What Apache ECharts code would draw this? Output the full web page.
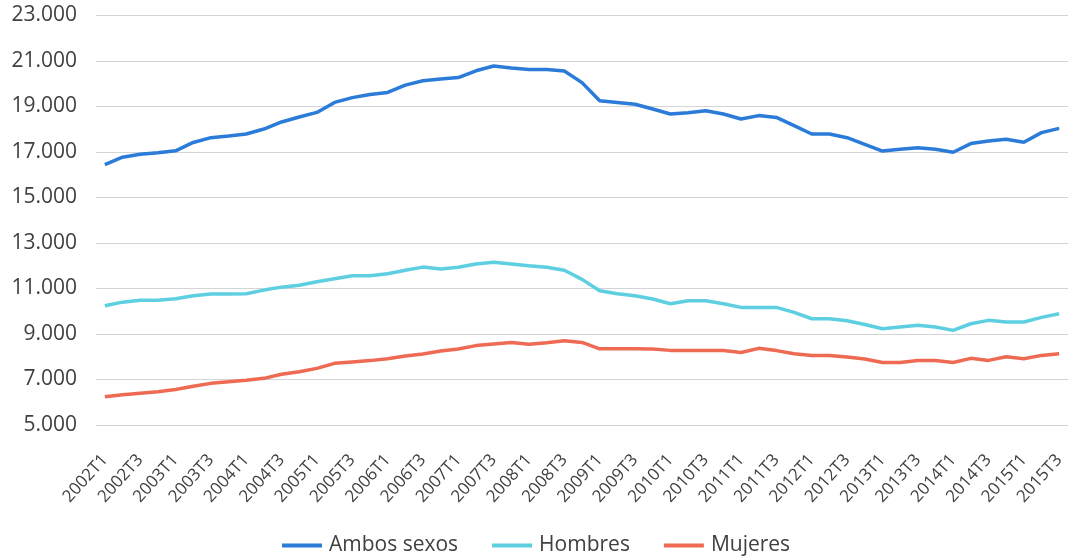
<!DOCTYPE html>
<html lang="es">
<head>
    <meta charset="UTF-8">
    <title>Ocupados</title>
    <script type="text/javascript" src="https://cdn.jsdelivr.net/npm/echarts@6/dist/echarts.min.js"></script>
    <style>
        body { margin: 0; background: #ffffff; overflow: hidden; }
    </style>
</head>
<body>
    <div style="width: 1084px; height: 557px" id="container"></div>
<script>
    // trimestres 2002T1 .. 2015T3
    let categories = [];
    for (let y = 2002; y <= 2015; y++) {
        for (let q = 1; q <= 4; q++) {
            if (y === 2015 && q > 3) break;
            categories.push(y + 'T' + q);
        }
    }

    let ambos = [16450, 16770, 16900, 16970, 17050, 17420, 17630, 17700, 17790, 18010,
        18320, 18540, 18740, 19180, 19390, 19530, 19620, 19940, 20130, 20210,
        20270, 20570, 20780, 20690, 20630, 20630, 20560, 20050, 19250, 19180,
        19100, 18890, 18670, 18730, 18810, 18670, 18450, 18600, 18520, 18160,
        17790, 17790, 17630, 17340, 17040, 17120, 17190, 17120, 16990, 17370,
        17480, 17560, 17430, 17850, 18040];

    let hombres = [10240, 10400, 10480, 10480, 10550, 10680, 10760, 10760, 10770, 10930,
        11060, 11140, 11300, 11430, 11560, 11560, 11650, 11800, 11940, 11860,
        11930, 12080, 12150, 12080, 12000, 11930, 11800, 11400, 10900, 10770,
        10680, 10540, 10330, 10460, 10460, 10330, 10170, 10170, 10170, 9950,
        9670, 9670, 9580, 9420, 9230, 9310, 9380, 9310, 9160, 9450,
        9600, 9530, 9530, 9730, 9890];

    let mujeres = [6240, 6330, 6400, 6460, 6560, 6700, 6830, 6900, 6970, 7050,
        7230, 7340, 7490, 7710, 7770, 7830, 7910, 8030, 8120, 8250,
        8340, 8490, 8560, 8630, 8550, 8620, 8700, 8630, 8350, 8350,
        8350, 8340, 8280, 8280, 8280, 8270, 8190, 8370, 8270, 8130,
        8060, 8060, 7990, 7900, 7750, 7750, 7840, 7840, 7750, 7930,
        7840, 8000, 7910, 8060, 8130];

    let seriesNames = ['Ambos sexos', 'Hombres', 'Mujeres'];
    let colors = ['#2B7BD9', '#5ECFE0', '#EF6A52'];
    let textColor = '#404040';
    let fontFamily = '"Open Sans", "Noto Sans", sans-serif';

    let formatNumber = function (num) {
        return num.toString().replace(/\B(?=(\d{3})+$)/g, '.');
    };

    let dom = document.getElementById('container');
    let myChart = echarts.init(dom, null, { renderer: 'canvas' });

    let option = {
        animation: false,
        backgroundColor: '#ffffff',
        color: colors,
        grid: {
            left: 96,
            right: 16,
            top: 15.5,
            bottom: 132
        },
        legend: {
            top: 530,
            left: 277,
            icon: 'rect',
            itemWidth: 40,
            itemHeight: 4,
            itemGap: 34,
            textStyle: {
                fontSize: 21,
                color: textColor,
                fontFamily: fontFamily,
                padding: [0, 0, 0, 2]
            },
            data: seriesNames
        },
        xAxis: {
            type: 'category',
            data: categories,
            boundaryGap: true,
            axisLine: { show: false },
            axisTick: { show: false },
            axisLabel: {
                interval: 1,
                rotate: 48,
                margin: 32,
                fontSize: 17,
                color: textColor,
                fontFamily: fontFamily
            }
        },
        yAxis: {
            type: 'value',
            min: 5000,
            max: 23000,
            interval: 2000,
            axisLine: { show: false },
            axisTick: { show: false },
            splitLine: { lineStyle: { color: '#d4d4d4', width: 1 } },
            axisLabel: {
                margin: 19,
                fontSize: 21,
                color: textColor,
                fontFamily: fontFamily,
                formatter: function (v) { return formatNumber(v); }
            }
        },
        series: [ambos, hombres, mujeres].map(function (d, i) {
            return {
                name: seriesNames[i],
                type: 'line',
                data: d,
                symbol: 'none',
                smooth: false,
                lineStyle: { width: 3.5, color: colors[i] },
                itemStyle: { color: colors[i] }
            };
        })
    };

    myChart.setOption(option);
</script>
</body>
</html>
